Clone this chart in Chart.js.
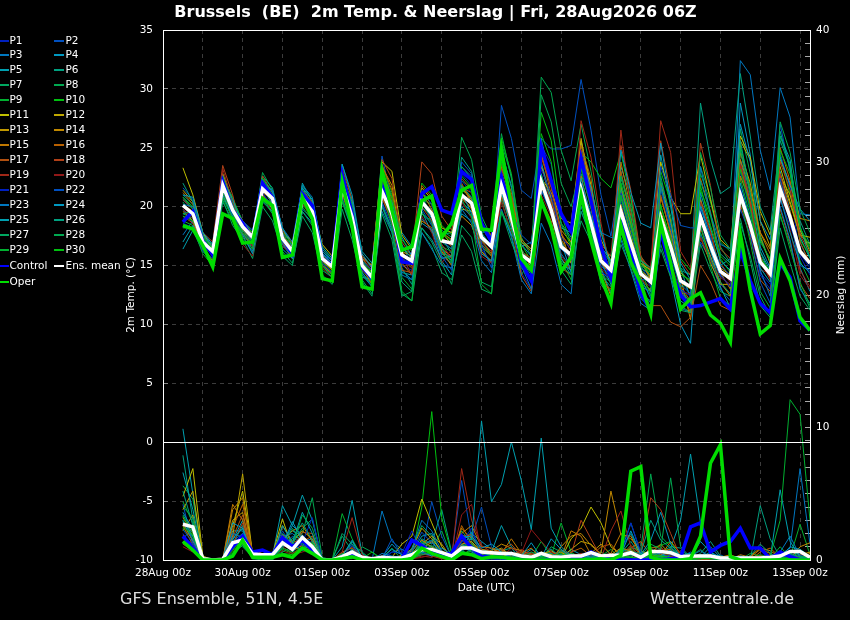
<!DOCTYPE html>
<html>
<head>
<meta charset="utf-8">
<title>Brussels ensemble</title>
<script src="https://cdn.jsdelivr.net/npm/chart.js@4/dist/chart.umd.min.js"></script>
<style>
  html, body { margin: 0; background: #000; }
  #wrap { position: relative; width: 850px; height: 620px; overflow: hidden; font-family: "DejaVu Sans", sans-serif; color: #fff; }
  #wrap div.txt { position: absolute; white-space: pre; }
  .leg-line { position: absolute; }
  .leg-text { position: absolute; font-size: 10.5px; line-height: 12px; white-space: pre; }
</style>
</head>
<body>
<div id="wrap">
  <canvas id="c" width="850" height="620"></canvas>
  <div class="txt" style="left:0;width:871px;text-align:center;top:2px;font-size:16px;font-weight:bold">Brussels  (BE)  2m Temp. &amp; Neerslag | Fri, 28Aug2026 06Z</div>
  <div class="txt" style="left:120px;top:589px;font-size:16px;color:#ddd">GFS Ensemble, 51N, 4.5E</div>
  <div class="txt" style="left:650px;top:589px;font-size:16px;color:#ddd">Wetterzentrale.de</div>
  <div class="txt" style="left:800px;width:80px;text-align:center;top:289px;font-size:10.5px;line-height:12px;transform:rotate(-90deg)">Neerslag (mm)</div>
  <div id="legend"></div>
</div>
<script>
// hours after 28Aug 00z
const hours = [12,18,24,30,36,42,48,54,60,66,72,78,84,90,96,102,108,114,120,126,132,138,144,150,156,162,168,174,180,186,192,198,204,210,216,222,228,234,240,246,252,258,264,270,276,282,288,294,300,306,312,318,324,330,336,342,348,354,360,366,372,378,384,390];
const xTickLabels = ["28Aug 00z","30Aug 00z","01Sep 00z","03Sep 00z","05Sep 00z","07Sep 00z","09Sep 00z","11Sep 00z","13Sep 00z"];

// 2m temperature, main runs
const tControl = [18.7,19.6,17.1,15.9,22.1,19.7,18.6,17.3,22,20.8,17.3,16,21.1,20.1,15.6,15,22.7,19.4,14.9,13.9,21.8,19.7,15.3,15.2,21.1,21.7,19.7,19.4,23,22.3,18.6,17,22.5,19.7,15.2,13.7,25.1,22.2,19.4,17.9,24.1,20.5,16.6,14,18.8,16,12.6,11.2,18,14.6,12.5,11.5,11.6,11.9,12.2,11.3,16.3,13.7,11.8,11,15.2,14,10.3,9.5];
const tMean = [20.1,19.4,17,16.2,21.8,19.7,18.3,17.4,21.5,20.7,17.3,16.2,20.7,19.6,15.6,14.9,21.8,19.1,15,14,21.3,19.4,15.9,15.4,20.4,19.4,17.1,16.9,21,20.3,17.4,16.6,21.8,19.1,15.9,15.3,22.1,19.7,16.6,15.9,21.5,18.6,15.4,14.6,19.6,16.9,14.3,13.6,19.1,16.6,13.7,13.2,19.1,16.7,14.5,13.9,21,18.4,15.3,14.3,21.5,19.1,16.2,15.2];
const tOper = [18.4,18.1,16.7,14.9,19.4,19,16.9,17,20.7,20.1,15.7,15.9,20.8,19,13.9,13.7,22.1,18.3,13.2,13,23.1,19.7,16.3,16.6,20.5,20.9,17.4,18.6,21.4,21.8,18.1,18,24.9,20,15.6,14.6,20.5,18.3,14.5,15.7,21,17.1,14,11.8,18.4,15.3,13.5,10.9,18.6,15.2,11.3,12.2,12.7,10.8,10.1,8.5,17.7,12.9,9.2,9.9,15.6,13.7,10.6,9.5];

// 2m temperature, perturbed members
const t1 = [19,19.6,17.2,16,22.6,20,18.2,17,22.3,20.6,17,15.8,21,19.8,15.6,14.6,23.3,19.4,14.8,13.6,23,20,15,14.6,19.8,19.6,16.8,15.6,22.8,21.8,16.4,15.2,24,20.4,14.4,13,25.2,23.6,18.4,17.2,23.5,20,15.2,13.8,20.4,17,13.6,12.5,21.5,17.6,12.8,12,17.6,15.8,13.4,12.6,23,19.6,14.2,13,24.6,21.6,15.8,14.2];
const t2 = [19.8,18.6,16.8,15.8,21.2,19.2,17.6,16.8,21,20.2,17.8,16.4,21.4,20,16,15.2,22.8,20,15.4,14.6,24.3,20.4,16.8,15,20.8,18.6,15.8,15.2,23.4,22.6,17,16.2,28.6,25.8,21.4,20.7,25.8,24.9,24.9,25.2,30.8,26.5,21,17.5,23,19,15,13.5,22,18,14,12.5,17,15.5,13,12,25,20,15.5,14,27,23,17,15];
const t3 = [17.6,18.8,16.4,15.6,20.8,19,17.8,16.6,20.6,19.8,16.8,15.6,19.8,19,15.2,14.2,20.6,18,14.2,13.2,19.6,17.8,14.6,13.8,19,18,16,15.8,20.4,19.6,16.8,16,23,19.5,15,13,21.4,19.6,16,14.8,22,18.6,14.6,13.6,20.8,17.4,13,11.8,18.8,15.4,11.4,11,19.6,16.2,14,14.4,32.4,31.2,24.8,21.4,30.1,27.6,19.4,19.3];
const t4 = [20.6,19.8,17.6,16.4,22,20.4,18.6,17.2,21.8,20.8,17.6,16.6,21.6,20.2,15.8,14.8,21.2,18.6,14.4,13.4,22.4,20.8,17.8,16.6,18.6,18,15.4,14.2,21.8,20.4,17.6,16.8,24.6,21.8,16,14.6,23.8,20.6,16.8,15.6,25.4,20.8,15.4,13.4,21.6,18.2,14,12.2,18,14,10,8.4,20.2,17.6,14.2,13.2,28.8,24.4,16.6,14.8,26,24,17.4,15.6];
const t5 = [16.4,18,16.2,15.4,21.4,19.6,17.4,16.2,21.2,21,17.4,15.9,22,20.4,16.2,15.4,22.4,19.8,14,13.8,21,19.6,14.4,14.2,19.6,17.8,17.4,16,19.4,18.8,17.8,18,21.6,18.8,16.6,17,23.6,20.2,18.2,17.8,20,17.6,14.8,12.6,23.4,20.8,15.6,13.6,24.4,20,14.8,12.2,20.8,16.4,13.2,11.4,24,20.4,16.2,14.6,23,19.6,14.8,12.8];
const t6 = [21,20.2,17.8,16.6,22.8,20.6,18.8,17.8,22.6,21.6,18,16.8,20.2,19.2,15,14,23.6,20.6,15.8,14.8,22.4,19.2,14.8,13.4,20.2,19.8,17.6,17.8,24.2,23,18.4,17.4,24.8,21.6,17,16.4,25.8,21.8,17.2,15.2,22.8,20.2,16.4,15.8,21.4,18.4,14.8,14.2,22.6,18.8,14.6,14.2,28.8,24,21.1,21.7,31.3,26,20,18,25.6,23.4,18.8,16.8];
const t7 = [19.4,19,16.6,15.2,20.6,18.4,17.2,15.6,20,18.8,16.2,15.2,19.2,17.8,14.2,13.4,19.8,17.2,13.6,12.4,20,17.8,12.6,12,17.8,16.6,14.4,13.8,17.6,16.2,13,12.6,20.6,17.6,14.2,15.6,20.8,18,15.2,14.6,18.8,17,13.8,12.8,17.4,15.2,12.6,12,16.4,14,11.6,11,16.8,14.6,12.8,12.4,19,15.4,11.6,10.6,19.2,16.8,13.2,11.4];
const t8 = [20.4,19.2,17,15.8,22.2,20.2,18.4,17.6,22.9,21.4,17.2,16.4,21.8,20.6,15.4,14.4,23,19.6,15.2,14.2,22.8,21,16.4,16,20.6,20.2,18,17.4,25.9,24,19.2,17.4,26.2,22.4,17.4,15.8,31,29.7,24.8,22.2,27,23,18,15,22.4,19.6,15.8,14.4,21.6,18.6,14.8,14.2,23.4,20.8,16.6,15.2,26.6,22.8,17.6,15.2,26,23.6,18.2,16.4];
const t9 = [18.8,18.4,16.2,15.6,21,19.4,18.2,17.4,21.4,20.4,17,15.6,20.4,19.4,15.2,14.8,21.8,19.2,14.6,13.6,22,19.8,14,13,19.4,18.8,16.6,16.2,21.4,20.8,16.6,15.8,22.6,19.4,15.4,14.4,20.2,18.4,15.4,13.8,23.2,19.8,16.2,14.8,20.8,17.6,13.4,13,18.4,16.8,13.2,13.4,22.8,20.4,17,16.2,22.4,19.2,15.8,14.4,21.8,18.8,15.4,13.6];
const t10 = [20.8,20,17.4,16.8,22.4,20.8,18.6,17.8,21.8,20.6,17.6,16.6,21.2,20.4,16.4,15.6,22.6,20.2,15.6,14.4,23.4,21.2,15.6,14.8,22,21,18.4,17.6,22.2,21.6,17.2,15.8,25.8,22.8,16.8,15.4,28,25.6,19.4,16.8,24.6,23.8,22.4,21.6,24.6,20.6,15.8,14,23,20.4,15.6,14.6,21.4,19.2,15.6,14.4,25.2,21.6,17,15.6,24.4,21,17.2,15.8];
const t11 = [23.3,21,17.8,16.4,21.6,20,18.8,17.6,21,19.8,18,17,20.8,20,16.8,15.8,21.2,18.8,15.8,15,23.8,23,17.6,16.4,21.6,20.6,18.2,17.8,19.8,19.6,18.6,17.2,21,18.6,16.2,15.6,22.4,21.2,19,18.6,25.6,21.8,17.2,15.4,19.4,17.2,15.2,14.6,23.8,20.8,19.4,19.4,24.4,20.6,17.2,16.4,26,24.2,19.6,17.6,23.4,20.4,17.6,17.4];
const t12 = [21.4,20.4,17.6,16.6,22.2,19.8,18.4,17,21.6,20.2,16.8,15.8,21,19.6,15.6,14.6,21.4,18.4,15.2,14.4,21.6,19,16.2,15.8,21.2,20.2,17.8,16.8,21.6,20.6,18.2,17,22.8,20.4,17,16.2,23.4,20.8,17.6,16.6,25.8,21.2,16,14.2,21.2,17.8,14.6,13.8,19.6,17.2,13.6,13,19.4,17,14.8,14.2,25.6,24,18.8,16.6,22.6,21,18,16.2];
const t13 = [20.2,19.6,17.2,16,21.8,20,18,16.8,21.4,20.4,17.2,16,20.6,19.2,15.4,14.6,21.6,19.4,15.6,15,23.4,21.8,16.6,15.6,18.8,18.2,16.2,15,20.8,19.8,16.2,15.2,21.4,18.4,16.4,14.8,21.8,20.4,17.8,15.2,23.8,21,15.8,14.8,20.2,16.8,14,12.8,20.8,17.8,14.4,13.6,17.4,15.2,13.4,13.4,24.6,22,17.4,15.2,22.8,20.2,17.6,16.8];
const t14 = [19.6,18.8,16.6,15.4,21.4,19.4,18,17.2,21.2,20.6,17.6,16.4,20.8,19.8,15.8,15.2,21.4,19,14.8,13.4,20.8,18.8,15.4,15,20.2,19.6,17.8,17.2,19.2,18.4,16.2,15.4,23.4,20.8,17.2,16.4,24.4,21.8,18,17,24,20,14.6,12.4,21.8,18.6,15.2,14,22,18.8,14,10.4,18.2,15.8,13.6,12.4,22.6,20.4,17.8,16.4,24,22,19,18.8];
const t15 = [20,19.4,17,16.2,22.8,20.4,18.2,17.2,21.6,20.8,17,15.6,20.6,19.6,15,14.4,22.2,19.2,15.2,14,23.2,20.6,15.2,14.2,21.2,19.8,16.4,15.8,21.8,20.6,18.4,17.6,21.6,20,15.2,14.6,20.6,18.8,15.6,14.6,22.6,19,15.2,14.2,23.8,19.8,15.6,13.8,19,16.4,13,11,20.6,18,14.4,13,24,21.4,17.8,16,22.2,19.6,16.4,15.4];
const t16 = [21.2,20.2,17.4,16,21.4,19.6,18.6,17.6,22.2,21,17.8,16.8,21.2,19.8,15.2,14.2,22,19.4,15.4,14.2,23.6,21.4,16.2,15.2,21.8,20.8,17.4,16.6,22,20.2,17.2,16,23.6,21.2,16.4,15,24.6,21,17.2,15.8,25.2,22.4,15.6,14.4,23,19.2,14.6,13.4,21,17.6,13.2,12,22.4,19.6,15.2,14,23.6,20.2,15.4,14,25,22.2,17,15.2];
const t17 = [19.2,18.6,16.4,15.2,21.8,19.6,17.8,16.6,21,20,17,16,20.6,19.4,14.8,14,21,18.6,14.8,14.4,20.8,18.6,14.6,14.4,20,18.8,16.2,15.6,20.6,20,16.8,15.8,20.8,18.4,14.2,12.8,20.6,18.6,14.8,14.2,21.8,18.6,13.6,13,18.6,15.8,12.4,11.6,11.6,10.2,9.8,10.6,15,13.6,11.6,11.2,20.2,17.4,13.8,12.8,19.8,17,13.4,12.2];
const t18 = [20.6,19.8,17.8,17,23.5,21,17.4,16.4,22.6,21.2,18,16.8,21.4,20.4,16,15,23.2,20.6,15.6,14.6,24,22.4,17,15.8,23.8,22.8,19.2,18,21.6,21.2,18,17.6,23.2,20.8,15.8,14.4,24.2,21.6,17.8,16.2,24.8,21.4,16.8,15.8,25.2,21.4,15.8,14.6,25.6,21.2,15.4,14.2,25.4,21.8,16.4,15.6,23.4,20.2,15.8,14,23.8,21.4,17.6,16];
const t19 = [20,19.2,16.8,15.8,23.2,20.4,17.6,16.6,21.4,20.4,17.4,16.6,20.4,18.8,15.8,15.2,21.4,19.2,15.8,14.8,22.2,20.6,15.8,14.2,20.6,19.6,16.8,15.6,22.4,21.4,17,16.2,21.8,20.2,16.2,15.6,22.6,20.4,16.8,15.4,27.3,24.2,18.6,14.4,26.5,19.8,15.6,14.8,27.3,24.6,16.2,14.8,20.4,17.8,14.6,13.6,23.6,20.8,15.4,13.8,22.8,19.4,14.6,13.2];
const t20 = [19.8,19,17,16,21.2,18.8,16.8,15.8,20.8,19.6,16.6,16,20.2,19.4,15.4,14.8,21.6,18.8,14.6,13.8,21.4,19.6,15.4,14.8,19.2,17.8,15.2,16.4,20.4,19,15.8,15.2,20.4,17.8,15.4,14.6,21,19.2,15.8,14.8,20.8,17.4,14.8,13.8,18.2,15.6,13.8,13.2,17.8,15.2,12.8,12.6,17.4,15.4,14,13.4,20.6,17.8,14.6,14.4,21,18,14.2,13];
const t21 = [18.6,18.2,16.2,15.6,21.6,19.2,17.8,17,21.2,20,17.4,16.4,20.6,19,15.2,14.4,22.2,19.6,15.4,14.6,21.8,19.8,15.6,15.2,21.4,20.2,17.2,16.4,22.2,21.2,17.6,16.4,21.4,18.8,15.6,14.8,23.2,21,17.4,16.4,21.8,19.4,14.4,14,21.2,18,14.6,13.2,18.4,15.8,13,12.4,19.8,17.4,14.2,13.2,21.6,18.4,14.4,13.4,20.6,18.4,16,14.8];
const t22 = [21.6,20.6,17.4,16.2,21.4,19.4,18.8,18,21.8,20.4,16.8,15.8,21,19.6,16,15.4,20.8,18.2,14.8,14.2,20.4,18.4,16,15.2,19.8,18.4,15.8,14.6,23.8,22.8,16.8,14.8,22.8,19.6,17.6,16.8,21.4,19.4,16.4,15.6,19.6,17.4,15,14,17.8,15.8,13.8,13.8,23.4,21,18.4,18.2,18.2,16.4,15,14.2,19.8,17.6,13.6,11.8,22.4,19,15,14.6];
const t23 = [20.2,20,17.6,16.6,20.8,19.2,18.2,17.4,22,21.4,18.2,17,21.8,20.8,16.4,15.4,22.4,19.4,14.4,13.2,20.2,18,14.2,13.8,17.8,16.4,15,14.8,19.8,18.6,15.4,14.4,19.8,17.4,13.8,12.6,18.6,16.8,13.4,12.6,20.6,18.8,17.8,17.4,17.2,14.6,11.8,11.2,21.8,18.4,13.4,12.6,23.4,19.4,16.8,16.4,21.4,18.6,14.6,12.4,20,17.2,13,11.8];
const t24 = [21,20.8,17.8,16.8,21,19,17.6,16,20.4,19.6,16.4,15.6,19.6,18.6,16,15.2,23.6,21,16,14.8,21.2,20.2,17.4,15.8,20.4,19,16.4,15.4,21.2,19.4,16,15.4,19.6,17.6,16.8,15.8,22.2,20,17,14.4,24.2,21.6,17.8,14.8,24.8,21.2,18.6,18.2,25.4,20.4,15.2,13.8,20,17.2,15,15.6,27,23.8,18.8,17.2,24.2,21.8,19.8,18.8];
const t25 = [17,18.4,16.8,16.2,22.4,20.6,18.4,17.4,22.4,21.2,18.2,16.6,21.6,20.6,16.6,15.6,22.6,20.4,16.2,15.2,21.6,20.4,16.6,15.6,18.2,17.2,15.6,15.8,20,19.2,17.2,16.6,21.2,18.2,15.2,13.8,22.8,19.6,15.6,14.2,22.4,19.2,16.6,15.4,19,16.4,13.2,12.8,17.8,15,12,11.4,21.2,18.2,15.4,14.6,22,18.8,14.8,13.6,20.8,17.8,15.2,14.4];
const t26 = [22,20.4,17.2,16,22,20,17.8,16.4,21.6,20.2,17.2,16.2,21.2,19.8,16,15,21.6,19.6,15.2,14.2,20,18.2,13.6,12.8,20.8,19.4,17,16.4,21.8,20.8,17.8,16.6,22.2,19.8,15.4,14.2,24.8,22.4,18.6,17.4,20.4,18,14.2,13.2,22,19,15.4,14.8,18.6,16.2,13,11.8,22.2,19.4,16,15.2,25.6,21.2,16.2,14.2,26.4,23.2,18.4,15.6];
const t27 = [19.4,19.6,16.6,15,20.4,18.8,18,17,20.8,19.4,15.8,15,19.6,18.4,14.6,14,20.4,18,13.8,12.6,19.4,17.2,12.4,12.8,18.2,17,15.2,13.4,18.4,17.4,13.6,13.2,19.6,17,14.8,13.8,20.4,18.2,14.6,13.4,19.6,17.6,13.4,12.2,16.8,14.8,12.2,11.4,16.8,14.2,11.2,11,17.8,15.6,13.6,12.6,18.6,15.8,12.4,10.8,18.2,15.2,12.4,11.2];
const t28 = [20.8,19.8,17.6,16.4,22.6,20.2,18.2,17.2,21.8,20.6,17.4,16.2,21.4,20.2,15.6,15,22.8,20.2,15.4,14.2,22.6,20.2,15.8,15.6,19.4,18.6,16,15.4,23.4,22.4,18.2,17,25.4,22.6,16.4,15,29.5,27.2,22,20,23.4,20.6,16.4,15.2,22.6,20,15.2,14.2,22.2,19.2,14.6,13.4,24.6,21.6,17.6,16.4,24.8,21,17.2,15.4,27.2,24.6,19.8,17.8];
const t29 = [18.2,18.2,16,15,21.2,19.4,17.4,16.4,20.6,19.4,17,16.4,20,18.8,15,14.2,22,19,14.2,13.4,21.6,18.4,12.8,12,20,19.2,16.6,15.2,20.6,19.2,13.4,12.6,19.6,18,15.6,14.8,22.6,19.8,15,14.2,21.2,18.2,14.2,13.6,21,18.2,14.8,12.4,20,17.4,12.6,12,18.6,15,12.2,11.6,20.8,17,12.8,11.4,19.4,16.4,13.6,11.6];
const t30 = [19.2,18.8,17.4,16.4,20.8,19,17.8,16.8,22.4,21,17.8,16.8,20.4,19.2,15.6,15,20.6,18.4,15,14.4,22.6,20.8,17.2,16.2,21,20.6,17.8,17,22.6,21.6,18,17.4,23.8,20.2,16,15.2,26.2,23.8,18.6,16.6,23.6,20.4,15.8,15,22,18.8,15,14.4,20.2,17,14.2,13.8,21.8,18.4,15.8,15,23.2,19.8,15.6,14.6,24.8,22.8,18.2,16.6];

// precipitation, main runs
const rControl = [1.8,.9,0,0,0,1,1.8,.6,.75,.4,1.7,1,1.5,.75,0,0,.1,.45,0,0,0,0,.1,1.5,1.1,.55,.4,.5,1.8,.9,.25,.25,.2,0,0,0,0,.1,0,.1,.25,.6,.25,0,0,0,0,0,0,.1,.2,2.5,2.8,.6,1.1,1.4,2.4,.9,.9,.1,.6,.25,0,0];
const rMean = [2.7,2.5,.1,0,.05,1.3,1.5,.45,.4,.4,1.3,.8,1.7,1,0,0,.25,.6,.2,.1,.2,.15,.15,.4,.8,.8,.55,.3,.9,.9,.6,.55,.5,.5,.3,.2,.5,.25,.2,.3,.3,.55,.3,.35,.35,.55,.2,.65,.65,.55,.25,.3,.3,.3,.15,.15,.15,.15,.15,.2,.3,.65,.65,.2];
const rOper = [1.4,.75,0,0,0,.3,1.5,.2,.2,.2,.4,.2,.9,.5,0,0,.1,.25,0,0,0,0,0,.1,.9,.5,.25,0,.5,.4,.1,.25,.2,.1,0,0,0,0,0,0,0,0,.1,0,.35,6.7,7.05,.2,0,0,0,.1,1.8,7.3,8.7,.25,0,0,0,0,0,0,0,0];

// precipitation, perturbed members
const r1 = [2,.9,0,0,0,1,1.6,.4,.3,.1,1.5,.6,1.2,1.4,0,0,0,.2,0,0,0,.1,0,.2,.5,.3,.2,0,1,.6,.1,0,0,.1,0,0,0,0,0,0,.2,.1,0,0,0,.3,0,.1,0,.1,0,0,0,0,0,.2,0,0,0,0,.1,.2,0,0];
const r2 = [4.2,1.2,0,0,.1,1.4,2,.3,.2,.4,2.2,1,1.6,.6,0,0,.2,.3,0,0,0,.6,.8,.4,.6,4.4,1.8,.2,6,1.6,4,1,.2,0,0,0,.3,0,0,0,0,.1,.4,0,.1,.2,0,.5,0,0,0,.3,.2,0,.4,0,0,0,.2,0,.3,0,0,0];
const r3 = [1.6,2.4,.1,0,0,1.8,1.2,.2,.3,.6,1.8,2,1.4,1.6,0,0,.4,1.2,.1,0,3.7,1.4,.8,.3,.7,.8,.2,.1,1,.9,.1,.4,.3,.5,0,0,.1,0,0,0,.3,.2,0,0,.2,.4,.3,0,.5,.2,0,.4,0,.2,0,.1,.1,0,0,.1,.4,.9,6.9,1.2];
const r4 = [3,1.8,.2,0,0,2.2,2.2,.5,.1,.2,1.2,2.6,1.9,1,0,0,.2,.8,.3,0,.2,1.2,.4,.2,1.4,1,.5,.3,.9,2,1.4,.8,.8,.2,.2,0,.6,.2,0,.8,.4,0,.2,.3,.6,2.8,.5,.6,.2,.8,.1,0,.2,1,.2,0,.1,0,.3,.2,.3,.6,.4,0];
const r5 = [9.9,5,.2,.1,0,1.5,3,.6,.4,.3,4.1,2.6,4.9,3,.1,0,1,4.5,.5,0,.3,.1,.1,.6,1.8,2,.4,.1,1.4,2.1,.8,.6,2.6,1,.3,.8,.4,.8,.2,.1,.2,.3,.2,0,.9,2,.4,0,.3,.9,3,8,2.8,.4,.3,.1,0,0,.1,0,.2,.4,.1,0];
const r6 = [7.9,3,.1,0,0,1.2,2.6,.2,.1,.3,1.6,2.2,1.8,1.1,0,0,.1,.3,0,.1,0,.1,.2,.3,1.6,1.2,3.8,.6,1.2,.8,.4,.2,.7,.9,0,.1,.3,.6,.4,0,.1,0,.2,.1,.5,1.4,.3,.8,.6,1,.9,.1,.5,1.4,.3,.2,0,0,4.1,1.6,.2,.1,0,0];
const r7 = [3.4,2.2,.1,0,0,.9,1.4,.1,.2,.1,2,1.2,2.4,3.1,0,0,1.8,.7,.1,.2,0,0,0,.9,2.6,1.8,.4,0,2.2,1.3,.3,.4,0,.2,.5,.4,0,1,.6,0,0,.4,.6,.2,.2,1,.1,0,.2,.7,.2,.1,0,.3,.2,.1,0,.2,.1,0,.5,.2,.6,.2];
const r8 = [5.6,4.6,.2,0,.1,1,1.8,.1,0,.2,1,1.6,2,4.7,.2,0,.1,.1,1,.6,.1,.9,0,.2,.5,.8,2.2,.2,.6,1.4,.2,.3,.4,.1,.2,.2,.3,.1,.8,.3,.2,.1,0,.1,.2,.9,.8,6.5,1.8,1,.2,.3,.8,.1,0,0,.1,.2,.4,.2,.1,0,.8,.3];
const r9 = [4.4,2.8,.1,0,0,1.4,1,.2,.1,0,1.4,.9,.8,1.4,.1,0,3.5,1.6,.2,0,0,.1,.3,.1,1,.6,.4,.2,.9,.7,.4,.1,.3,.6,.1,.2,1.4,.3,2.8,.6,.1,0,.3,.8,.1,.5,.3,.2,.6,.3,0,.1,.3,.2,.1,0,0,.5,.3,.1,1,.2,2.7,.4];
const r10 = [2.4,1.6,.1,0,0,.6,1.2,.1,.2,.3,.8,.5,1,.8,0,0,.3,.5,.1,.6,0,.1,0,.3,4,11.2,3.2,.5,.4,.8,.6,.2,.4,.2,.3,.1,.1,.2,.4,.1,.5,.2,.1,0,.3,.4,.2,.9,1.1,1.4,.2,0,.1,0,.2,.1,.3,0,0,.2,.1,0,0,.3];
const r11 = [4.8,6.9,.3,0,.1,2.6,5.2,.5,.2,.4,3.1,.9,1.8,1,0,.1,.2,.2,.1,0,.1,.2,1.2,1.8,4.6,2.8,1,.2,.8,1,.4,.3,.2,.5,.1,.3,.2,.4,.1,1.6,2.4,4,2.8,1,.4,.8,.1,.3,.1,.2,0,.1,.1,.2,.1,0,.2,0,.3,.1,0,.2,.1,0];
const r12 = [3.8,5.2,.2,0,0,1.8,6.5,.4,.3,.2,2.6,1.4,2.2,1.6,0,0,.1,.4,0,.1,0,0,.4,.8,2.4,1.6,.7,.3,1.2,1.4,.6,.4,.6,.4,.6,.2,.4,.7,.2,.8,1.4,1.2,.4,.1,.5,.2,.7,.4,.3,.1,.2,0,.4,.1,0,.2,0,.1,.2,0,.2,.3,.1,.1];
const r13 = [2.2,3.4,.1,0,0,3,3.6,.3,.1,.1,1.9,1,1.4,1.2,0,0,.1,.2,.1,0,.1,0,.1,.5,1.2,1.8,1.2,.1,1.1,.9,.5,.6,.9,.3,.2,.1,.6,.4,.6,.2,.3,.5,1.2,.4,.9,.7,.2,.5,1.2,.4,.1,.2,.3,.4,.1,0,0,.1,.3,.2,.1,.2,.4,.6];
const r14 = [3.2,2,.2,0,0,3.8,4.7,.3,.2,.5,1.5,2.2,2.6,1.4,0,0,.2,.6,.1,0,0,.1,.3,.7,1.5,1,.6,.2,2.4,1.6,.8,.7,1.2,.9,.7,.4,.2,0,1,1.8,2,1.1,.5,5.2,1.9,1.8,.3,.2,.4,.6,.2,.1,0,.1,.2,.4,.1,.3,.9,.7,.2,.1,1,1.3];
const r15 = [2.8,1.4,.1,0,0,4.2,3,.2,.1,.2,1.2,.7,1.1,.8,0,0,.4,.3,0,.1,.1,.2,.1,.3,.8,1.4,.3,.1,2,2.6,1,.9,.5,1.6,.5,.9,.1,.3,.2,2.2,1.8,.4,.2,.5,2,1.6,.7,.2,.3,1.4,.5,.2,.1,0,.3,0,.4,.2,.8,.5,.1,0,.2,.5];
const r16 = [2.6,1.1,0,0,0,2.4,4.2,.6,.2,.2,1.6,1.1,1.4,1.8,.1,0,.6,.9,.2,0,0,.1,.2,.4,.9,.6,.5,.1,2.6,1.2,.7,.5,.8,.2,.4,.1,.5,.2,.1,.6,.9,.3,1,1.2,.3,.9,1.4,.4,.7,.8,.1,0,.2,.1,0,.1,0,0,.6,.9,.2,.1,.3,.2];
const r17 = [1.9,.8,.1,0,0,1.7,3.4,.3,.3,.6,1.1,.9,2.1,2,0,0,.2,.5,.1,0,0,.1,0,.2,.4,.5,.2,0,1.8,1.9,.5,.2,.7,1.2,.3,.5,.2,.6,.3,.2,.4,.3,.1,.2,.5,.4,.1,.9,1,.2,.1,.2,0,.1,.2,0,.1,.3,.2,.4,0,.2,.1,0];
const r18 = [1.4,1,.1,0,.1,1.2,2.8,.2,.7,.2,1.4,1.3,1.6,1.2,.1,0,.5,1,.3,0,0,.2,.1,.3,.7,.3,.1,.2,1.5,.8,.3,.1,.1,.3,.8,.4,.2,.3,.7,.4,3,1.6,.2,.1,.3,1.1,.4,4.7,3.8,2,.2,.1,.3,0,.1,.1,0,.2,.1,.1,.2,0,0,.1];
const r19 = [1.2,.7,0,0,0,.8,1.9,.4,.4,.1,1,.5,.9,.7,0,0,.6,3.2,.4,0,0,.1,0,.1,.3,.2,.6,.2,6.9,3,1.1,.6,.3,.2,.4,.6,.1,.2,.1,.3,.5,.2,.1,2.2,3.7,1,.2,.8,.5,.3,.1,0,.1,.2,0,0,.3,.1,0,.2,.1,.3,0,0];
const r20 = [1,.6,0,0,0,.7,1.3,.2,.1,.2,.7,.4,.6,.9,0,0,.3,.6,.1,0,0,.2,.1,.1,.2,.4,.1,0,3.4,4.2,.6,.3,.2,.9,.5,2.3,1.4,.6,.1,.2,.1,.4,.2,.1,.6,.2,.1,.2,.9,.4,0,.2,.1,.1,.2,0,.1,.1,.3,.1,0,.1,.2,0];
const r21 = [1.7,1.2,0,0,0,1.1,1.5,.2,.2,.1,1.3,.7,1.3,3.2,0,0,.1,.4,.1,.1,.2,.6,.5,2.2,.6,.4,.2,.1,1.3,2.4,.3,.1,0,.2,.1,0,0,.1,0,.1,.4,.6,.1,0,.3,2.8,.6,.1,.2,0,.1,.2,.3,.1,0,0,.1,0,0,.2,.3,.1,.4,0];
const r22 = [2.3,1.3,0,0,0,.9,1.4,.1,.3,.2,.9,1.8,1.1,.9,0,0,.2,1.1,0,0,.1,1.6,.3,.6,2.1,1.3,.6,.2,.7,1.1,.5,.3,.2,.4,0,.1,.2,0,.2,.4,.1,.3,.1,.4,.2,.6,.3,.2,.1,.4,.2,.6,.1,.2,.1,.3,.2,.1,0,0,.1,.4,.2,.1];
const r23 = [2.9,1.5,.1,0,0,2,1.7,.3,.2,.4,1.7,1.2,.7,1.3,.1,0,.4,.6,.1,0,.5,.3,.2,.8,3,2.2,.7,.1,1.1,.6,.2,.5,.4,.6,.1,0,.3,.1,.4,.1,.2,.4,0,.1,.3,.7,0,.4,.5,.1,.2,.3,.7,.2,0,.1,0,.1,.2,0,.6,1.8,.3,.1];
const r24 = [3.6,2.3,.1,0,.1,2.8,2.4,.4,.1,.3,1.1,2.9,1.5,.7,0,0,.3,1.4,.2,.1,.2,.8,.4,.2,.6,.3,.9,.4,1.7,1.8,.9,1.2,.6,.1,.3,1.3,.2,1.6,.8,.2,.1,.5,.2,.1,.4,2.2,.4,1.5,3.6,1.2,.3,.2,1.4,.6,.2,0,.3,.2,.1,.1,.2,1,.8,.2];
const r25 = [6.6,3.8,.2,0,0,1.6,2.4,.3,.2,.2,2.6,1.3,3.6,2,0,0,.3,1.5,.2,0,.1,.2,.1,.4,1.1,1.5,.3,.2,1.9,1.5,10.5,4.4,5.7,8.9,6,2.3,9.2,2.4,1,.3,.4,.2,.3,.1,.7,.4,.2,.1,.3,.7,.4,.5,.2,.6,.1,.2,0,.1,.2,.1,5.3,1.4,.2,0];
const r26 = [5.2,2.6,.1,0,0,1,2,.4,.1,.1,1.2,1.6,2.8,1.5,0,0,.2,.4,.1,0,0,0,.2,.2,1.3,.7,.3,.1,.8,1.7,.6,.3,.6,.4,.2,.3,.4,.5,.1,.2,.2,.1,.3,.2,.8,.6,.5,3,1.5,.9,.3,.1,.4,.3,.2,.1,.1,.3,1.2,.5,.1,0,.1,.2];
const r27 = [3,1.7,.1,0,0,.5,1.1,.2,.1,.1,1,2.4,1.2,.9,.1,0,2,1.2,.6,0,0,.1,.1,.2,.6,1.1,.4,.1,.7,.4,.2,.1,.1,.3,.1,.1,.5,.2,.7,.2,.1,.2,.4,.1,.2,.3,.4,.6,.3,.2,.1,0,.1,.2,.1,.1,.2,0,.1,.1,.3,.5,.2,.1];
const r28 = [4,3.2,.2,0,0,1.3,1.6,.1,.2,.2,.6,1,3.4,2.4,0,0,.1,.2,0,.1,.1,0,0,.1,.4,.6,.2,.1,1,1.2,.4,.2,.3,.2,.2,.6,.3,.1,.3,.5,.2,.1,.2,.1,.2,.5,.3,1.2,.8,6.2,1,.2,.3,.1,.2,0,0,.1,.2,.1,.2,.1,.3,.2];
const r29 = [3.3,2,.1,0,0,.8,1.5,.2,.1,0,.9,.6,1.6,1.1,0,0,.5,.4,.1,0,0,.1,0,.2,1.4,.9,.3,0,.4,.7,.1,.2,.1,0,.2,.1,.4,.1,.3,0,.2,.1,.1,.3,.1,.2,.1,.3,.2,.1,.1,0,.2,.1,0,.1,.1,.2,.2,.3,3,12.1,11,3];
const r30 = [2.5,1.9,.1,0,0,.7,1.8,.1,.1,.1,.5,.4,.8,1.3,0,0,.3,.3,0,.1,0,0,.1,.2,.9,.5,.2,.1,.6,.5,.1,.1,.2,.1,.1,.2,.2,.2,.5,.1,.1,0,.1,.2,.3,.2,.1,.4,.3,.2,0,.1,.1,.1,.2,.1,0,.1,.1,.2,.1,.2,.1,.1];

const memberTemps = [t1,t2,t3,t4,t5,t6,t7,t8,t9,t10,t11,t12,t13,t14,t15,t16,t17,t18,t19,t20,t21,t22,t23,t24,t25,t26,t27,t28,t29,t30];
const memberRain = [r1,r2,r3,r4,r5,r6,r7,r8,r9,r10,r11,r12,r13,r14,r15,r16,r17,r18,r19,r20,r21,r22,r23,r24,r25,r26,r27,r28,r29,r30];

// colour ramp repeats after P20
const ramp = ["#0020c0","#0050c0","#0078c0","#0098c0","#00a0b0","#00a080","#00a860","#00a850","#00b030","#00c010","#c0c000","#c0a800","#c09800","#c08800","#c07800","#b86000","#b05010","#b04018","#a02818","#901818"];
const memberNames = memberTemps.map((_, i) => "P" + (i + 1));
const memberColors = memberNames.map((_, i) => ramp[i % 20]);
const CONTROL = "#0000ff", OPER = "#00dd00", MEAN = "#ffffff";

function line(label, yAxisID, values, color, width) {
  return {
    label, yAxisID, borderColor: color, borderWidth: width,
    data: values.map((v, i) => ({ x: hours[i], y: v })),
    pointRadius: 0, tension: 0, fill: false
  };
}

// paint order: members, control, mean, oper
const datasets = [];
memberTemps.forEach((v, i) => datasets.push(line(memberNames[i], "y", v, memberColors[i], 1)));
memberRain.forEach((v, i) => datasets.push(line(memberNames[i] + " rain", "y2", v, memberColors[i], 1)));
datasets.push(line("Control", "y", tControl, CONTROL, 3.5));
datasets.push(line("Control rain", "y2", rControl, CONTROL, 3.5));
datasets.push(line("Ens. mean", "y", tMean, MEAN, 3.5));
datasets.push(line("Ens. mean rain", "y2", rMean, MEAN, 3.5));
datasets.push(line("Oper", "y", tOper, OPER, 3.5));
datasets.push(line("Oper rain", "y2", rOper, OPER, 3.5));
datasets.forEach((d, i) => { d.order = datasets.length - i; });

// frame and the white zero line
const framePlugin = {
  id: "frame",
  afterDraw(chart) {
    const { ctx, chartArea: a, scales } = chart;
    ctx.save();
    ctx.strokeStyle = "#fff";
    ctx.lineWidth = 1;
    ctx.strokeRect(a.left + .5, a.top + .5, a.width, a.height);
    const y0 = Math.round(scales.y.getPixelForValue(0)) + .5;
    ctx.beginPath(); ctx.moveTo(a.left, y0); ctx.lineTo(a.right, y0); ctx.stroke();
    ctx.restore();
  }
};

const tickFont = { family: "'DejaVu Sans'", size: 10.5 };
const titleFont = { family: "'DejaVu Sans'", size: 10.5 };

new Chart(document.getElementById("c"), {
  type: "line",
  data: { datasets },
  plugins: [framePlugin],
  options: {
    responsive: false,
    animation: false,
    events: [],
    layout: { padding: { left: 120, top: 30, right: 0, bottom: 0 } },
    plugins: { legend: { display: false }, tooltip: { enabled: false }, title: { display: false } },
    scales: {
      x: {
        type: "linear", min: 0, max: 390,
        afterFit: (s) => { s.height = 60; },
        grid: { color: "#3c3c3c", drawTicks: false },
        border: { color: "#fff", dash: [4, 4] },
        ticks: {
          stepSize: 24, includeBounds: false, autoSkip: false, maxRotation: 0, color: "#fff", font: tickFont, padding: 7,
          callback: (v) => (v % 48 === 0 ? xTickLabels[v / 48] : "")
        },
        title: { display: true, text: "Date (UTC)", color: "#fff", font: titleFont, padding: { top: 0, bottom: 25 } }
      },
      y: {
        position: "left", min: -10, max: 35,
        afterFit: (s) => { s.width = 43; },
        grid: { color: "#3c3c3c", tickLength: -5, tickColor: "#888" },
        border: { color: "#fff", dash: [4, 4] },
        ticks: { stepSize: 5, color: "#fff", font: tickFont, padding: 15 },
        title: { display: true, text: "2m Temp. (°C)", color: "#fff", font: titleFont, padding: { top: 5, bottom: 0 } }
      },
      y2: {
        position: "right", min: 0, max: 40,
        afterFit: (s) => { s.width = 40; },
        grid: { drawOnChartArea: false, tickLength: -5, tickColor: "#aaa" },
        border: { color: "#fff" },
        ticks: {
          stepSize: 1, autoSkip: false, color: "#fff", font: tickFont, padding: 11,
          callback: (v) => (v % 10 === 0 ? String(v) : "")
        }
      }
    }
  }
});

// two column legend on the left, partly cut off by the window edge
const legend = document.getElementById("legend");
function legendEntry(name, color, col, cy, thick) {
  const lx = col === 0 ? -2 : 54;
  const ln = document.createElement("div");
  ln.className = "leg-line";
  ln.style.cssText = `left:${lx}px;width:${col === 0 ? 11 : 10}px;top:${Math.round(cy)}px;background:${color};height:${thick}px`;
  const tx = document.createElement("div");
  tx.className = "leg-text";
  tx.textContent = name;
  tx.style.cssText = `left:${col === 0 ? 9.5 : 65.5}px;top:${Math.round(cy) - 6}px`;
  legend.append(ln, tx);
}
memberNames.forEach((n, i) => legendEntry(n, memberColors[i], i % 2, 39.5 + 14.95 * Math.floor(i / 2), 2));
legendEntry("Control", CONTROL, 0, 265, 2);
legendEntry("Ens. mean", MEAN, 1, 265, 2);
legendEntry("Oper", OPER, 0, 281, 2);
</script>
</body>
</html>
